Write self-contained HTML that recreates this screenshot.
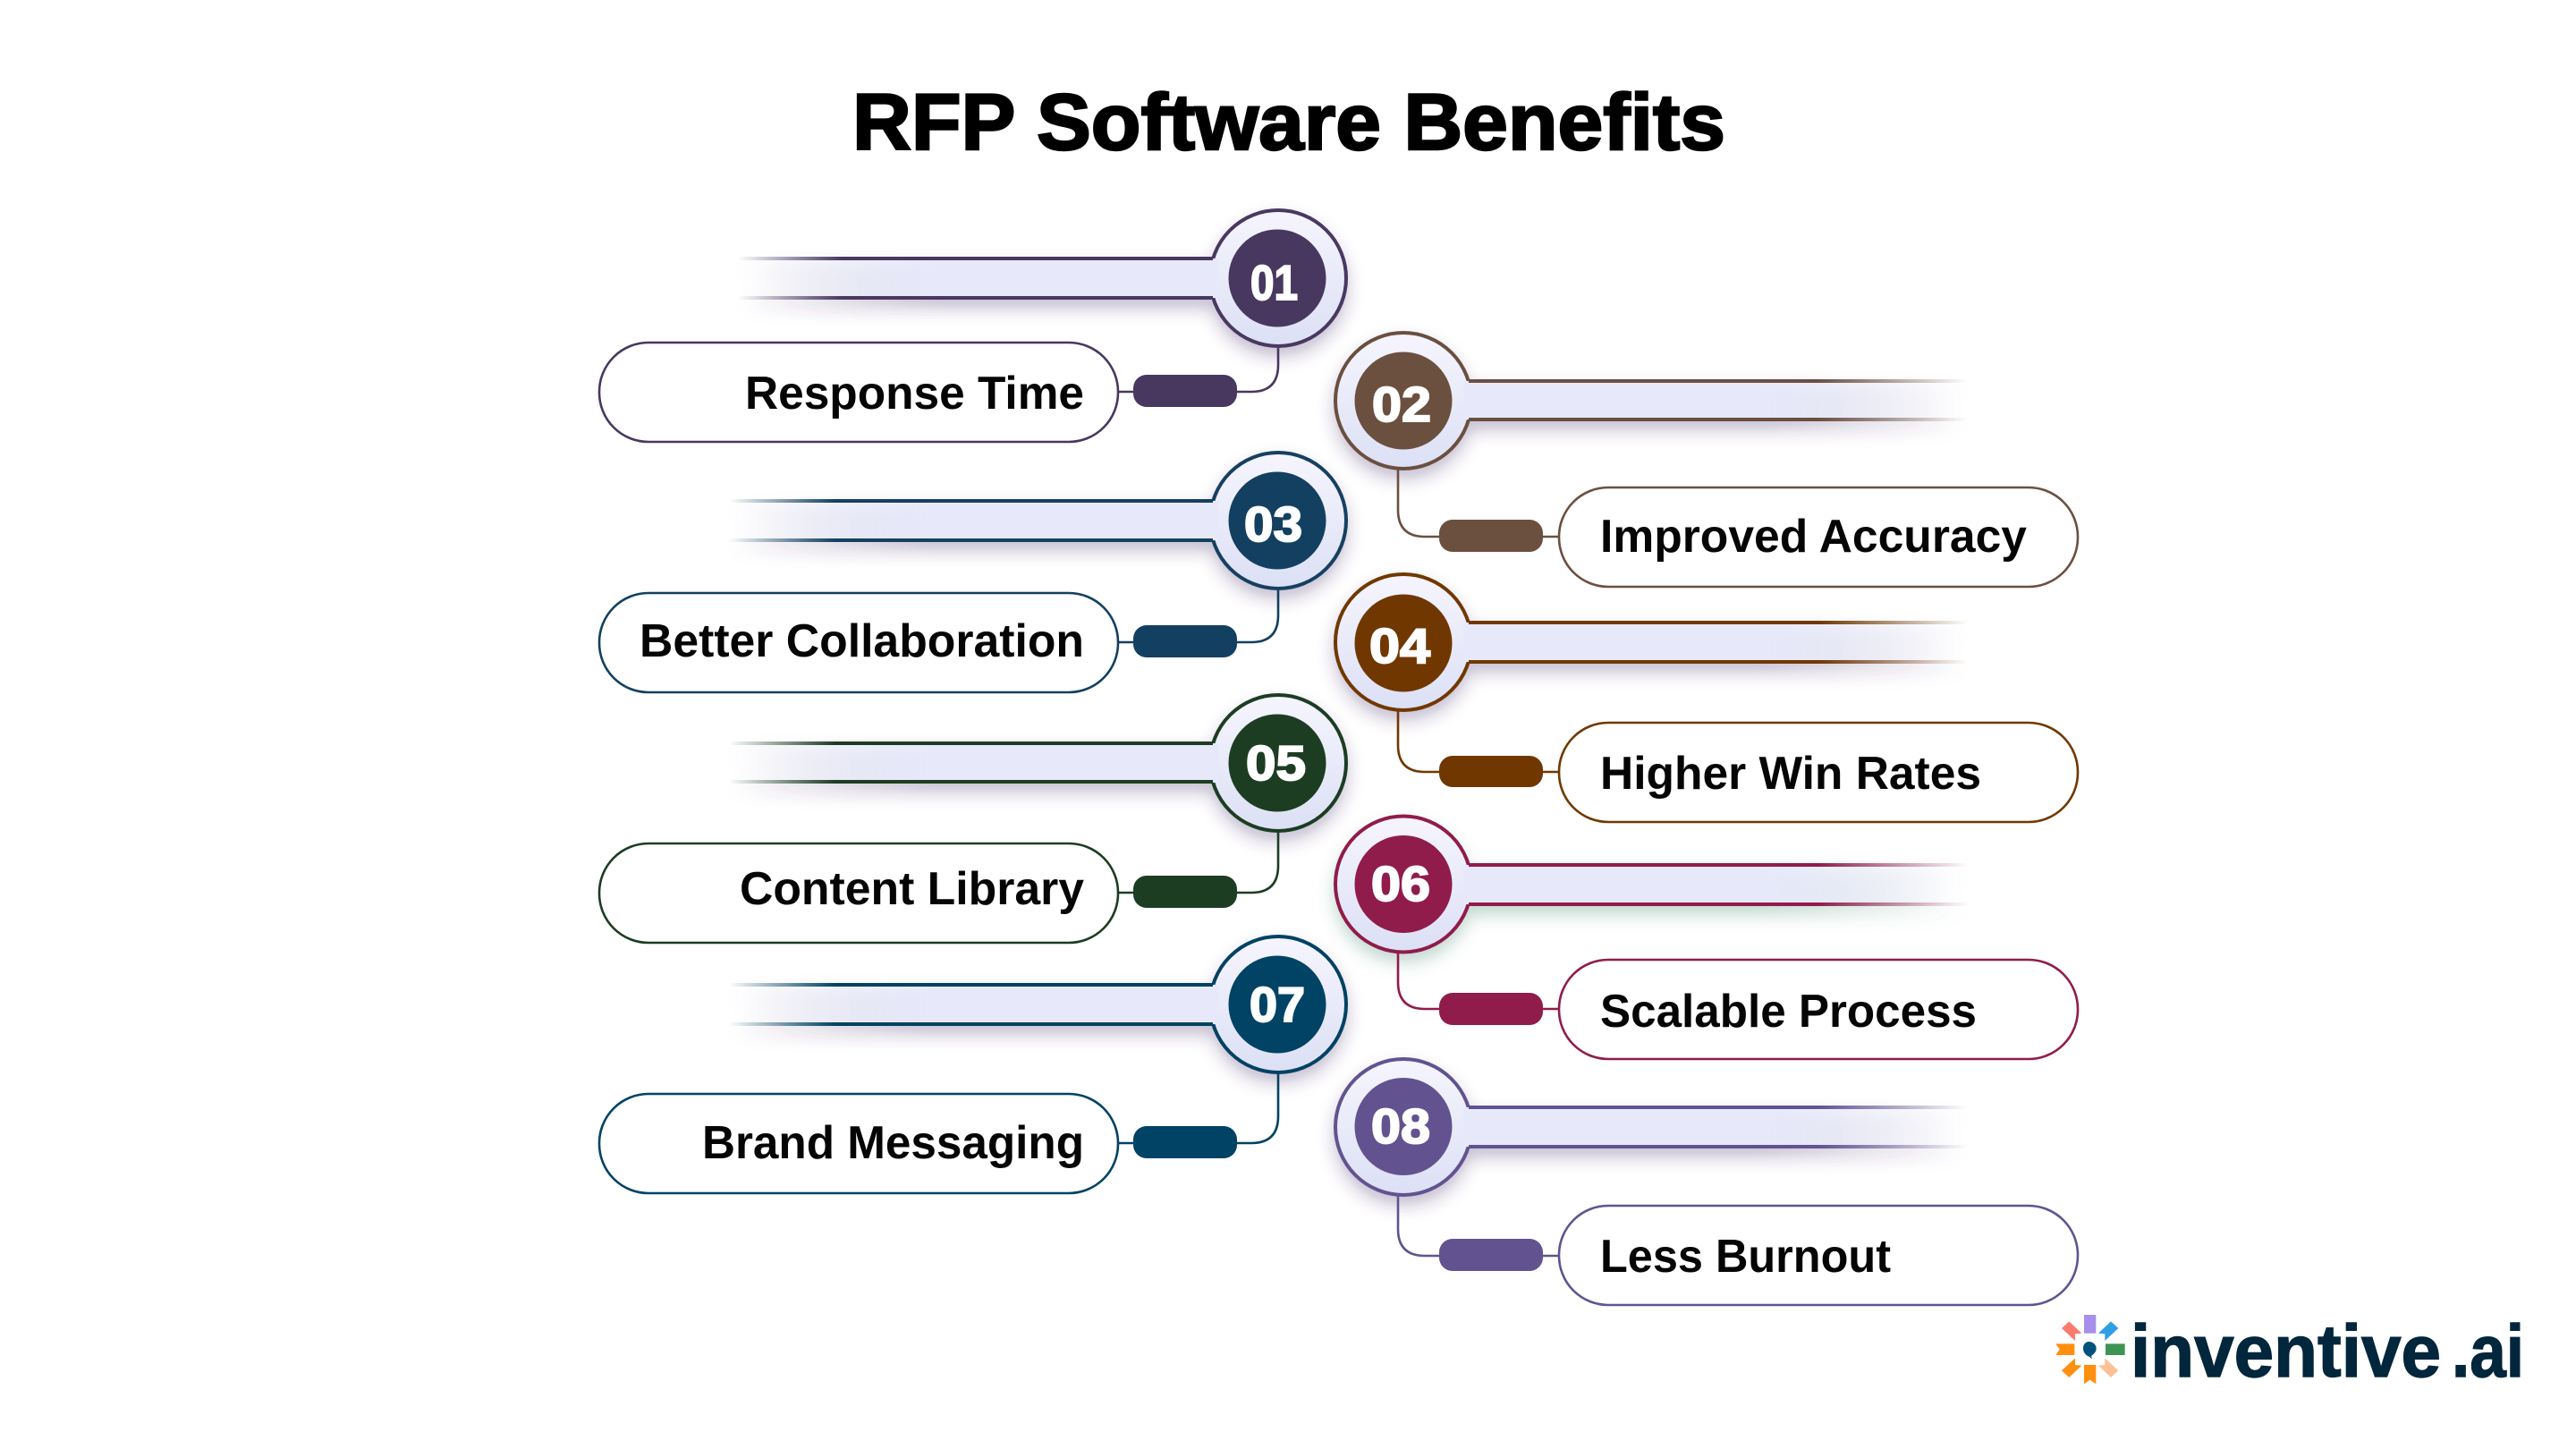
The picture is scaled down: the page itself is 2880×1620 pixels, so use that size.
<!DOCTYPE html>
<html lang="en">
<head>
<meta charset="utf-8">
<title>RFP Software Benefits</title>
<style>
html,body{margin:0;padding:0;background:#fff;width:2880px;height:1620px;overflow:hidden}
svg{display:block}
text{font-family:"Liberation Sans",Arial,sans-serif;font-weight:700}
.t{font-size:52px;fill:#050505}
.n{font-size:55px;fill:#fff;stroke:#fff;stroke-width:2px}
.l{font-size:83px;fill:#02263c;stroke:#02263c;stroke-width:1.4px}
</style>
</head>
<body>
<svg width="2880" height="1620" viewBox="0 0 2880 1620" xmlns="http://www.w3.org/2000/svg">
<defs>
<filter id="s" filterUnits="userSpaceOnUse" x="0" y="0" width="2880" height="1620"><feDropShadow dx="0" dy="10" stdDeviation="9" flood-color="#3c3268" flood-opacity=".3"/></filter>
<filter id="s2" filterUnits="userSpaceOnUse" x="0" y="0" width="2880" height="1620"><feDropShadow dx="0" dy="10" stdDeviation="9" flood-color="#4f8f7c" flood-opacity=".34"/></filter>
<linearGradient id="ring" x1="0" y1="0" x2="0" y2="1"><stop offset="0" stop-color="#f6f5fe"/><stop offset="1" stop-color="#dce0f5"/></linearGradient>
<linearGradient id="bL"><stop offset="0" stop-color="#e7e9fb" stop-opacity="0"/><stop offset=".4" stop-color="#e7e9fb"/><stop offset="1" stop-color="#e7e9fb"/></linearGradient>
<linearGradient id="bR"><stop offset="0" stop-color="#e7e9fb"/><stop offset=".6" stop-color="#e7e9fb"/><stop offset="1" stop-color="#e7e9fb" stop-opacity="0"/></linearGradient>
<linearGradient id="l1"><stop offset="0" stop-color="#483860" stop-opacity="0"/><stop offset=".22" stop-color="#483860"/></linearGradient>
<linearGradient id="l3"><stop offset="0" stop-color="#134060" stop-opacity="0"/><stop offset=".22" stop-color="#134060"/></linearGradient>
<linearGradient id="l5"><stop offset="0" stop-color="#1c3d22" stop-opacity="0"/><stop offset=".22" stop-color="#1c3d22"/></linearGradient>
<linearGradient id="l7"><stop offset="0" stop-color="#004364" stop-opacity="0"/><stop offset=".22" stop-color="#004364"/></linearGradient>
<linearGradient id="l2"><stop offset=".7" stop-color="#6b5040"/><stop offset="1" stop-color="#6b5040" stop-opacity="0"/></linearGradient>
<linearGradient id="l4"><stop offset=".7" stop-color="#703800"/><stop offset="1" stop-color="#703800" stop-opacity="0"/></linearGradient>
<linearGradient id="l6"><stop offset=".7" stop-color="#901c4c"/><stop offset="1" stop-color="#901c4c" stop-opacity="0"/></linearGradient>
<linearGradient id="l8"><stop offset=".7" stop-color="#625390"/><stop offset="1" stop-color="#625390" stop-opacity="0"/></linearGradient>
</defs>

<rect width="2880" height="1620" fill="#fff"/>

<text x="953" y="167" font-size="89" fill="#000" stroke="#000" stroke-width="2.4" textLength="976" lengthAdjust="spacingAndGlyphs">RFP Software Benefits</text>

<!-- 01 -->
<g filter="url(#s)">
<circle cx="1429" cy="311" r="76" fill="url(#ring)" stroke="#483860" stroke-width="4"/>
<rect x="835" y="289" width="527" height="44" fill="url(#bL)"/>
<rect x="825" y="287" width="531" height="4" fill="url(#l1)"/>
<rect x="825" y="331" width="531" height="4" fill="url(#l1)"/>
</g>
<circle cx="1428" cy="311" r="54.5" fill="#483860"/>
<text class="n" x="1398" y="335" textLength="53" lengthAdjust="spacingAndGlyphs">01</text>
<rect x="670" y="383" width="580" height="111" rx="55" fill="#fff" stroke="#483860" stroke-width="2.6"/>
<path d="M1429 389V408Q1429 438 1399 438H1383M1267 438H1250" fill="none" stroke="#483860" stroke-width="2.6"/>
<rect x="1267" y="419" width="116" height="36" rx="15" fill="#483860"/>
<text class="t" x="833" y="457" textLength="379" lengthAdjust="spacingAndGlyphs">Response Time</text>

<!-- 03 -->
<g filter="url(#s)">
<circle cx="1429" cy="582" r="76" fill="url(#ring)" stroke="#134060" stroke-width="4"/>
<rect x="825" y="560" width="537" height="44" fill="url(#bL)"/>
<rect x="815" y="558" width="541" height="4" fill="url(#l3)"/>
<rect x="815" y="602" width="541" height="4" fill="url(#l3)"/>
</g>
<circle cx="1428" cy="582" r="54.5" fill="#134060"/>
<text class="n" x="1391" y="605" textLength="65" lengthAdjust="spacingAndGlyphs">03</text>
<rect x="670" y="663" width="580" height="111" rx="55" fill="#fff" stroke="#134060" stroke-width="2.6"/>
<path d="M1429 660V688Q1429 718 1399 718H1383M1267 718H1250" fill="none" stroke="#134060" stroke-width="2.6"/>
<rect x="1267" y="699" width="116" height="36" rx="15" fill="#134060"/>
<text class="t" x="715" y="734" textLength="497" lengthAdjust="spacingAndGlyphs">Better Collaboration</text>

<!-- 05 -->
<g filter="url(#s)">
<circle cx="1429" cy="853" r="76" fill="url(#ring)" stroke="#1c3d22" stroke-width="4"/>
<rect x="825" y="831" width="537" height="44" fill="url(#bL)"/>
<rect x="815" y="829" width="541" height="4" fill="url(#l5)"/>
<rect x="815" y="872" width="541" height="4" fill="url(#l5)"/>
</g>
<circle cx="1428" cy="853" r="54.5" fill="#1c3d22"/>
<text class="n" x="1393" y="872" textLength="67" lengthAdjust="spacingAndGlyphs">05</text>
<rect x="670" y="943" width="580" height="111" rx="55" fill="#fff" stroke="#1c3d22" stroke-width="2.6"/>
<path d="M1429 930V968Q1429 998 1399 998H1383M1267 998H1250" fill="none" stroke="#1c3d22" stroke-width="2.6"/>
<rect x="1267" y="979" width="116" height="36" rx="15" fill="#1c3d22"/>
<text class="t" x="827" y="1011" textLength="385" lengthAdjust="spacingAndGlyphs">Content Library</text>

<!-- 07 -->
<g filter="url(#s)">
<circle cx="1429" cy="1123" r="76" fill="url(#ring)" stroke="#004364" stroke-width="4"/>
<rect x="825" y="1101" width="537" height="44" fill="url(#bL)"/>
<rect x="815" y="1099" width="541" height="4" fill="url(#l7)"/>
<rect x="815" y="1143" width="541" height="4" fill="url(#l7)"/>
</g>
<circle cx="1428" cy="1123" r="54.5" fill="#004364"/>
<text class="n" x="1397" y="1142" textLength="62" lengthAdjust="spacingAndGlyphs">07</text>
<rect x="670" y="1223" width="580" height="111" rx="55" fill="#fff" stroke="#004364" stroke-width="2.6"/>
<path d="M1429 1200V1248Q1429 1278 1399 1278H1383M1267 1278H1250" fill="none" stroke="#004364" stroke-width="2.6"/>
<rect x="1267" y="1259" width="116" height="36" rx="15" fill="#004364"/>
<text class="t" x="785" y="1295" textLength="427" lengthAdjust="spacingAndGlyphs">Brand Messaging</text>

<!-- 02 -->
<g filter="url(#s)">
<circle cx="1569" cy="448" r="76" fill="url(#ring)" stroke="#6b5040" stroke-width="4"/>
<rect x="1636" y="426" width="554" height="43" fill="url(#bR)"/>
<rect x="1642" y="424" width="558" height="4" fill="url(#l2)"/>
<rect x="1642" y="467" width="558" height="4" fill="url(#l2)"/>
</g>
<circle cx="1569" cy="448" r="54.5" fill="#6b5040"/>
<text class="n" x="1534" y="471" textLength="66" lengthAdjust="spacingAndGlyphs">02</text>
<rect x="1743" y="545" width="580" height="111" rx="55" fill="#fff" stroke="#6b5040" stroke-width="2.6"/>
<path d="M1563 524V570Q1563 600 1593 600H1609M1725 600H1743" fill="none" stroke="#6b5040" stroke-width="2.6"/>
<rect x="1609" y="581" width="116" height="36" rx="15" fill="#6b5040"/>
<text class="t" x="1789" y="617" textLength="477" lengthAdjust="spacingAndGlyphs">Improved Accuracy</text>

<!-- 04 -->
<g filter="url(#s)">
<circle cx="1569" cy="718" r="76" fill="url(#ring)" stroke="#703800" stroke-width="4"/>
<rect x="1636" y="696" width="554" height="44" fill="url(#bR)"/>
<rect x="1642" y="694" width="558" height="4" fill="url(#l4)"/>
<rect x="1642" y="738" width="558" height="4" fill="url(#l4)"/>
</g>
<circle cx="1569" cy="719" r="54.5" fill="#703800"/>
<text class="n" x="1531" y="741" textLength="68" lengthAdjust="spacingAndGlyphs">04</text>
<rect x="1743" y="808" width="580" height="111" rx="55" fill="#fff" stroke="#703800" stroke-width="2.6"/>
<path d="M1563 794V833Q1563 863 1593 863H1609M1725 863H1743" fill="none" stroke="#703800" stroke-width="2.6"/>
<rect x="1609" y="845" width="116" height="35" rx="15" fill="#703800"/>
<text class="t" x="1789" y="882" textLength="426" lengthAdjust="spacingAndGlyphs">Higher Win Rates</text>

<!-- 06 -->
<g filter="url(#s2)">
<circle cx="1569" cy="988.5" r="76" fill="url(#ring)" stroke="#901c4c" stroke-width="4"/>
<rect x="1636" y="967" width="554" height="44" fill="url(#bR)"/>
<rect x="1642" y="965" width="558" height="4" fill="url(#l6)"/>
<rect x="1642" y="1009" width="558" height="4" fill="url(#l6)"/>
</g>
<circle cx="1569" cy="988.5" r="54.5" fill="#901c4c"/>
<text class="n" x="1533" y="1007" textLength="66" lengthAdjust="spacingAndGlyphs">06</text>
<rect x="1743" y="1073" width="580" height="111" rx="55" fill="#fff" stroke="#901c4c" stroke-width="2.6"/>
<path d="M1563 1065V1098Q1563 1128 1593 1128H1609M1725 1128H1743" fill="none" stroke="#901c4c" stroke-width="2.6"/>
<rect x="1609" y="1110" width="116" height="36" rx="15" fill="#901c4c"/>
<text class="t" x="1789" y="1148" textLength="421" lengthAdjust="spacingAndGlyphs">Scalable Process</text>

<!-- 08 -->
<g filter="url(#s)">
<circle cx="1569" cy="1260" r="76" fill="url(#ring)" stroke="#625390" stroke-width="4"/>
<rect x="1636" y="1238" width="554" height="44" fill="url(#bR)"/>
<rect x="1642" y="1236" width="558" height="4" fill="url(#l8)"/>
<rect x="1642" y="1280" width="558" height="4" fill="url(#l8)"/>
</g>
<circle cx="1569" cy="1259.5" r="54.5" fill="#625390"/>
<text class="n" x="1533" y="1278" textLength="66" lengthAdjust="spacingAndGlyphs">08</text>
<rect x="1743" y="1348" width="580" height="111" rx="55" fill="#fff" stroke="#625390" stroke-width="2.6"/>
<path d="M1563 1336V1374Q1563 1404 1593 1404H1609M1725 1404H1743" fill="none" stroke="#625390" stroke-width="2.6"/>
<rect x="1609" y="1385" width="116" height="36" rx="15" fill="#625390"/>
<text class="t" x="1789" y="1422" textLength="325" lengthAdjust="spacingAndGlyphs">Less Burnout</text>

<!-- logo -->
<g transform="translate(2290 1460) scale(.33333)">
<rect x="120" y="30" width="40" height="62" fill="#a78fea"/>
<rect x="192" y="127" width="65" height="38" fill="#3f9455"/>
<polygon points="25,127 88,127 88,165 25,165 38,146" fill="#ff8f0f"/>
<polygon points="120,198 160,198 160,262 140,248 120,262" fill="#ff8f0f"/>
<polygon points="45,75 70,52 112,92 90,94 90,117" fill="#fb7a6e"/>
<polygon points="235,75 210,52 168,92 190,94 190,117" fill="#2f9fe4"/>
<polygon points="45,217 70,240 112,200 90,198 90,175" fill="#ff8f0f"/>
<polygon points="235,217 210,240 168,200 190,198 190,175" fill="#fdc197"/>
<path d="M136 120C150 120 161 130 161 143C161 155 152 162 144 168L147 178L137 170C126 166 117 156 117 142C117 130 125 120 136 120Z" fill="#00517c"/>
</g>
<text class="l" x="2382" y="1539" textLength="347" lengthAdjust="spacingAndGlyphs">inventive</text>
<text class="l" x="2741" y="1539" textLength="81" lengthAdjust="spacingAndGlyphs">.ai</text>
</svg>
</body>
</html>
